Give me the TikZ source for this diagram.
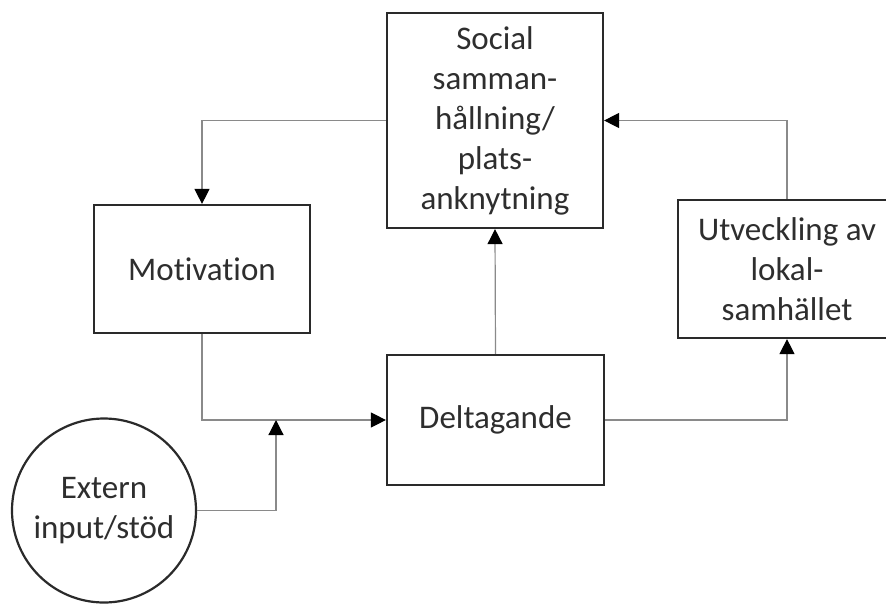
\documentclass[tikz,border=0pt]{standalone}
\usepackage{fontspec}
\setmainfont[Ligatures={NoCommon}]{Carlito}
\usetikzlibrary{arrows.meta}
\definecolor{boxline}{HTML}{2A2A2A}
\definecolor{conn}{HTML}{8A8A8A}
\definecolor{txt}{HTML}{2E2E2E}
\begin{document}
\begin{tikzpicture}[x=1pt,y=-1pt,
  box/.style={draw=boxline,line width=2.2pt,fill=white,inner sep=0pt,align=center,text=txt,
    font=\fontsize{33}{40}\selectfont},
  conn/.style={draw=conn,line width=1.2pt,-{Triangle[length=15pt,width=15pt,color=black]}}]
\clip (0,0) rectangle (886,603);
\fill[white] (0,0) rectangle (886,603);
% boxes
\node[box,minimum width=216pt,minimum height=215pt] (soc) at (495,120.5)
  {Social\\samman-\\hållning/\\plats-\\anknytning};
\node[box,minimum width=216pt,minimum height=128pt] (mot) at (202,269) {Motivation};
\node[box,minimum width=217pt,minimum height=130pt] (delt) at (495.5,420) {Deltagande};
\node[box,minimum width=218pt,minimum height=138pt] (utv) at (787,269)
  {Utveckling av\\lokal-\\samhället};
\node[box,circle,minimum size=184pt] (ext) at (104,510.5) {Extern\\input/stöd};
\coordinate (join) at (276,420);
% connectors
\draw[conn] (soc.west) -| (mot.north);
\draw[conn] (mot.south) |- (delt.west);
\draw[conn] (ext.east) -| (join);
\draw[conn] (delt.north) -- (soc.south);
\draw[conn] (delt.east) -| (utv.south);
\draw[conn] (utv.north) |- (soc.east);
\end{tikzpicture}
\end{document}
